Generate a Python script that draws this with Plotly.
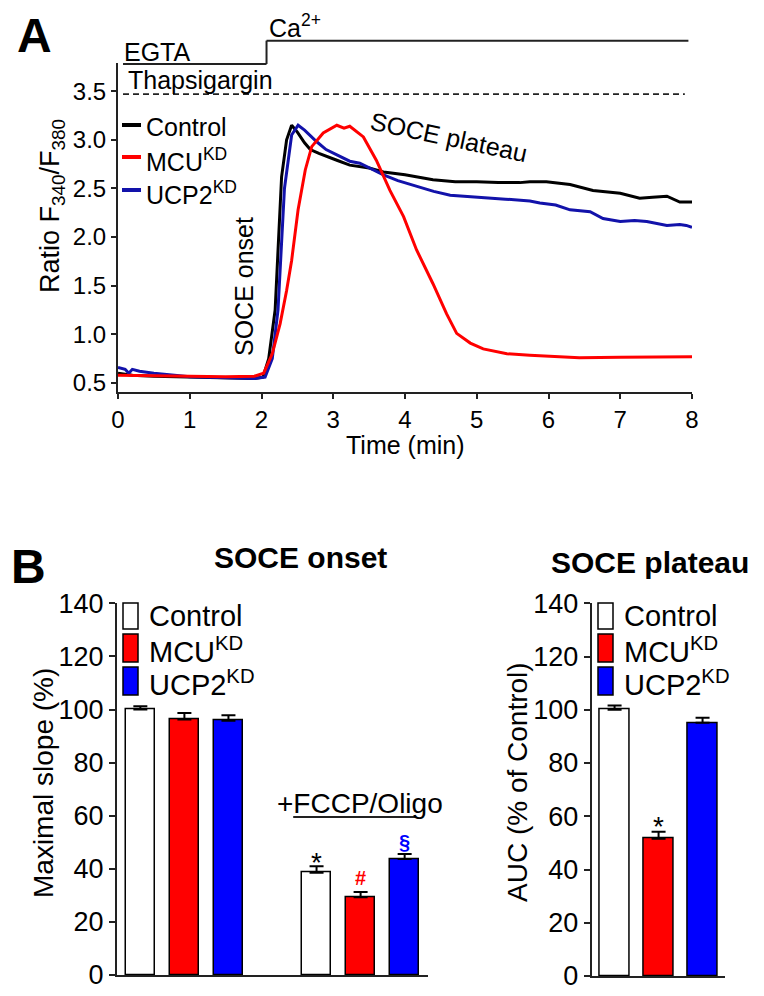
import plotly.graph_objects as go

# the page body has an 8px margin, so the figure is drawn 8px in from the window's corner
OFF = 8
W, H = 764 - OFF, 996 - OFF
FONT = "Liberation Sans, Arial, sans-serif"

# ---------------- Panel A data ----------------
t_control = [0, 0.2, 0.5, 1.0, 1.5, 1.9, 2.02, 2.1, 2.19, 2.28, 2.35, 2.42, 2.5, 2.6, 2.68,
             2.8, 3.05, 3.23, 3.5, 3.7, 4.0, 4.39, 4.7, 5.0, 5.3, 5.6, 5.74, 5.97, 6.3,
             6.62, 7.0, 7.27, 7.45, 7.65, 7.83, 8.0]
ratio_control = [0.60, 0.58, 0.57, 0.56, 0.55, 0.545, 0.56, 0.75, 1.25, 2.62, 3.0, 3.15, 3.08,
                 2.97, 2.90, 2.86, 2.79, 2.74, 2.71, 2.67, 2.64, 2.59, 2.57, 2.57, 2.56, 2.56,
                 2.57, 2.57, 2.54, 2.48, 2.45, 2.40, 2.41, 2.42, 2.36, 2.36]

t_ucp2 = [0, 0.1, 0.15, 0.2, 0.3, 0.5, 1.0, 1.5, 1.9, 2.05, 2.15, 2.23, 2.32, 2.42, 2.51, 2.6,
          2.77, 2.9, 3.09, 3.23, 3.37, 3.7, 3.9, 4.16, 4.4, 4.63, 4.85, 5.09, 5.4, 5.74, 5.88,
          6.1, 6.3, 6.58, 6.76, 7.0, 7.2, 7.37, 7.65, 7.83, 7.92, 8.0]
ratio_ucp2 = [0.66, 0.64, 0.60, 0.64, 0.62, 0.60, 0.565, 0.55, 0.545, 0.56, 0.75, 1.25, 2.5,
              3.05, 3.15, 3.10, 2.98, 2.90, 2.83, 2.78, 2.76, 2.64, 2.58, 2.52, 2.47, 2.43,
              2.42, 2.41, 2.39, 2.37, 2.35, 2.33, 2.28, 2.26, 2.19, 2.16, 2.17, 2.16, 2.12,
              2.13, 2.12, 2.10]

t_mcu = [0, 0.5, 1.0, 1.5, 1.9, 2.03, 2.15, 2.26, 2.35, 2.42, 2.51, 2.61, 2.7, 2.86, 3.05,
         3.15, 3.23, 3.42, 3.6, 3.79, 3.98, 4.16, 4.39, 4.58, 4.72, 4.91, 5.09, 5.42, 5.74,
         6.0, 6.43, 7.0, 7.5, 8.0]
ratio_mcu = [0.58, 0.575, 0.57, 0.565, 0.57, 0.60, 0.80, 1.11, 1.45, 1.76, 2.28, 2.69, 2.93,
             3.07, 3.15, 3.12, 3.14, 3.03, 2.79, 2.48, 2.21, 1.87, 1.52, 1.21, 1.01, 0.91,
             0.85, 0.80, 0.785, 0.775, 0.76, 0.765, 0.765, 0.77]

a_ticks = [0.5, 1.0, 1.5, 2.0, 2.5, 3.0, 3.5]

# ---------------- Panel B data ----------------
groups = ["Control", "MCU<sup>KD</sup>", "UCP2<sup>KD</sup>"]
onset_values = [100, 96.2, 95.8, 38.5, 29.3, 43.7]
onset_errors = [1.2, 2.5, 2.0, 2.5, 2.0, 1.9]
plateau_values = [100, 51.6, 95.1]
plateau_errors = [1.6, 2.6, 1.9]

BAR_COL = ["white", "#ff0000", "#0000ff"]
LINE_COL = ["black", "#ff0000", "#1212aa"]
AX = "#222222"


def px(x):
    return (x - OFF) / W


def py(y):
    return 1 - (y - OFF) / H


# panel A axis geometry
A_XD = [px(118), px(692)]
A_YD = [py(391.7), py(63)]
A_XR = [0, 8]
A_YR = [0.41, 3.79]


def a_x(t):
    return A_XD[0] + (t - A_XR[0]) / (A_XR[1] - A_XR[0]) * (A_XD[1] - A_XD[0])


def a_y(v):
    return A_YD[0] + (v - A_YR[0]) / (A_YR[1] - A_YR[0]) * (A_YD[1] - A_YD[0])


fig = go.Figure()

for t, r, c in [(t_control, ratio_control, LINE_COL[0]),
                (t_ucp2, ratio_ucp2, LINE_COL[2]),
                (t_mcu, ratio_mcu, LINE_COL[1])]:
    fig.add_trace(go.Scatter(x=t, y=r, mode="lines", line=dict(color=c, width=3),
                             xaxis="x", yaxis="y", showlegend=False, hoverinfo="skip"))

onset_pos = [i if i < 3 else i + 1 for i in range(len(onset_values))]
fig.add_trace(go.Bar(
    x=onset_pos, y=onset_values, width=0.67,
    marker=dict(color=BAR_COL * 2, line=dict(color="black", width=1.5)),
    error_y=dict(type="data", symmetric=False, array=onset_errors,
                 arrayminus=[0] * len(onset_errors), color="black", thickness=2, width=7),
    xaxis="x2", yaxis="y2", showlegend=False))

fig.add_trace(go.Bar(
    x=list(range(len(plateau_values))), y=plateau_values, width=0.67,
    marker=dict(color=BAR_COL, line=dict(color="black", width=1.5)),
    error_y=dict(type="data", symmetric=False, array=plateau_errors,
                 arrayminus=[0] * len(plateau_errors), color="black", thickness=2, width=7),
    xaxis="x3", yaxis="y3", showlegend=False))

common = dict(showgrid=False, zeroline=False, showline=True, linecolor=AX, linewidth=2,
              tickcolor=AX, tickwidth=2, color="black", automargin=False)

fig.update_layout(
    width=W, height=H, margin=dict(l=0, r=0, t=0, b=0, pad=0, autoexpand=False),
    paper_bgcolor="white", plot_bgcolor="white",
    font=dict(family=FONT, color="black"),
    bargap=0,
    xaxis=dict(domain=A_XD, range=A_XR, dtick=1, tick0=0, ticks="outside", ticklen=5,
               tickfont=dict(size=24), anchor="y", **common),
    yaxis=dict(domain=A_YD, range=A_YR, tickvals=a_ticks, tickformat=".1f",
               ticks="outside", ticklen=5, tickfont=dict(size=24), anchor="x", **common),
    xaxis2=dict(domain=[px(117), px(428)], range=[-0.53, 6.53], showticklabels=False,
                ticks="", anchor="y2", **common),
    yaxis2=dict(domain=[py(975), py(603.3)], range=[0, 140], dtick=20, ticks="outside",
                ticklen=6, tickfont=dict(size=27), anchor="x2", **common),
    xaxis3=dict(domain=[px(591.7), px(725)], range=[-0.52, 2.51], showticklabels=False,
                ticks="", anchor="y3", **common),
    yaxis3=dict(domain=[py(976), py(603.3)], range=[0, 140], dtick=20, ticks="outside",
                ticklen=6, tickfont=dict(size=27), anchor="x3", **common),
)

shapes = []
# solution bars above panel A
egta_end, ca_level, egta_level = 2.07, 4.02, 3.78
for (x0, y0, x1, y1) in [(0.07, egta_level, egta_end, egta_level),
                         (egta_end, egta_level, egta_end, ca_level),
                         (egta_end, ca_level, 7.95, ca_level)]:
    shapes.append(dict(type="line", xref="paper", yref="paper", x0=a_x(x0), y0=a_y(y0),
                       x1=a_x(x1), y1=a_y(y1), line=dict(color=AX, width=2)))
shapes.append(dict(type="line", xref="x", yref="y", x0=0.07, x1=7.9, y0=3.47, y1=3.47,
                   line=dict(color=AX, width=1.6, dash="6px,4px")))
# legend lines A
for yy, c in zip([125, 157, 190], LINE_COL):
    shapes.append(dict(type="line", xref="paper", yref="paper", x0=px(122), x1=px(141),
                       y0=py(yy), y1=py(yy), line=dict(color=c, width=4)))
# legend boxes B
for x0 in [123, 598]:
    for (y0, y1), c in zip([(603, 629), (634, 662), (667, 695)], BAR_COL):
        shapes.append(dict(type="rect", xref="paper", yref="paper", x0=px(x0), x1=px(x0 + 15),
                           y0=py(y1), y1=py(y0), fillcolor=c, line=dict(color="black", width=1.5)))
# underline FCCP
shapes.append(dict(type="line", xref="x2", yref="y2", x0=3.47, x1=6.26, y0=59.5, y1=59.5,
                   line=dict(color=AX, width=2)))
fig.update_layout(shapes=shapes)

ann = []


def add(text, x, y, size, xanchor="center", yanchor="middle", angle=0, color="black",
        bold=False, xref="paper", yref="paper"):
    if bold:
        text = "<b>" + text + "</b>"
    ann.append(dict(text=text, x=x, y=y, xref=xref, yref=yref, xanchor=xanchor,
                    yanchor=yanchor, textangle=angle, showarrow=False,
                    font=dict(size=size, color=color, family=FONT)))


add("A", px(34), py(35), 48, bold=True)
add("B", px(28), py(566), 48, bold=True)
add("Ca<sup>2+</sup>", px(267), py(26), 25, xanchor="left")
add("EGTA", px(122), py(52), 25, xanchor="left")
add("Thapsigargin", px(126), py(80), 25, xanchor="left")
add("SOCE plateau", px(449), py(137), 25, angle=12)
add("SOCE onset", px(244), py(287), 25, angle=-90)
add("Ratio F<sub>340</sub>/F<sub>380</sub>", px(52), py(206), 27, angle=-90)
add("Time (min)", px(405), py(445), 25)
for yy, g in zip([127, 160, 193], groups):
    add(g, px(144), py(yy), 25, xanchor="left")

add("SOCE onset", px(300), py(557), 30, bold=True)
add("SOCE plateau", px(650), py(562), 30, bold=True)
add("Maximal slope (%)", px(43), py(783), 28, angle=-90)
add("AUC (% of Control)", px(517), py(782), 28, angle=-90)
for x0 in [147, 622]:
    for yy, g in zip([616, 650, 683], groups):
        add(g, px(x0), py(yy), 29, xanchor="left")
add("+FCCP/Oligo", px(360), py(803), 28)
add("*", onset_pos[3], onset_values[3] + onset_errors[3] - 5.3, 28, yanchor="bottom",
    xref="x2", yref="y2")
add("#", onset_pos[4], onset_values[4] + onset_errors[4] + 0.5, 20, yanchor="bottom",
    color="#ff0000", bold=True, xref="x2", yref="y2")
add("§", onset_pos[5], onset_values[5] + onset_errors[5] - 0.5, 20, yanchor="bottom",
    color="#0000ff", bold=True, xref="x2", yref="y2")
add("*", 1, plateau_values[1] + plateau_errors[1] - 4.6, 28, yanchor="bottom",
    xref="x3", yref="y3")
fig.update_layout(annotations=ann)

fig.write_html("out.html")
